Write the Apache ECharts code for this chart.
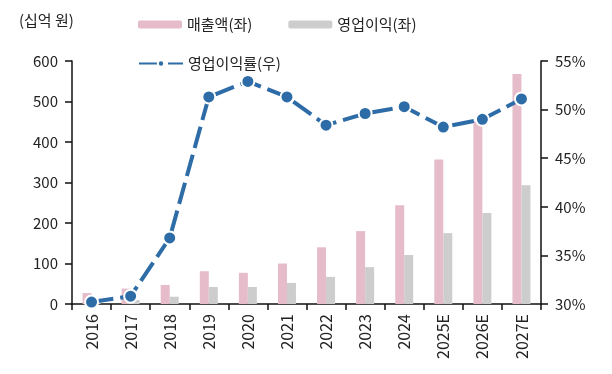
<!DOCTYPE html>
<html><head><meta charset="utf-8">
<script src="https://cdn.jsdelivr.net/npm/echarts@6/dist/echarts.min.js"></script>
<style>html,body{margin:0;padding:0;background:#fff}#c{width:612px;height:374px}</style>
</head><body><div id="c"></div>
<script>
const categories = ['2016','2017','2018','2019','2020','2021','2022','2023','2024','2025E','2026E','2027E'];
const sales = [27, 38, 47, 81, 77, 100, 140, 180, 244, 357, 451, 568];
const opProfit = [3, 10, 18, 42, 42, 52, 67, 91, 121, 175, 225, 293];
const opMargin = [30.2, 30.8, 36.8, 51.3, 52.9, 51.3, 48.4, 49.6, 50.3, 48.2, 49.0, 51.1];
const font = '"Noto Sans CJK KR", "Noto Sans", sans-serif';

const chart = echarts.init(document.getElementById('c'));
chart.setOption({
  animation: false,
  textStyle: {fontFamily: font},
  graphic: [{type: 'text', left: 19, top: 13, style: {text: '(십억 원)', font: '15px ' + font, fill: '#222'}}],
  legend: [
    {top: 12, left: 133, itemWidth: 44, itemHeight: 8, itemGap: 36,
     textStyle: {fontSize: 15, color: '#222', fontFamily: font},
     data: ['매출액(좌)', '영업이익(좌)']},
    {top: 51, left: 133, itemWidth: 44, itemHeight: 8,
     textStyle: {fontSize: 15, color: '#222', fontFamily: font},
     data: ['영업이익률(우)']}
  ],
  grid: {left: 72, right: 71, top: 61, bottom: 70},
  xAxis: {
    type: 'category', data: categories,
    axisLine: {lineStyle: {color: '#111', width: 1.5}},
    axisTick: {show: true, length: 6, lineStyle: {color: '#111', width: 1.5}},
    axisLabel: {rotate: 90, fontSize: 16, color: '#222', margin: 10}
  },
  yAxis: [
    {type: 'value', min: 0, max: 600, interval: 100,
     axisLine: {show: true, lineStyle: {color: '#111', width: 1.5}},
     axisTick: {show: true, length: 7, lineStyle: {color: '#111', width: 1.5}},
     axisLabel: {fontSize: 15, color: '#222', margin: 14},
     splitLine: {show: false}},
    {type: 'value', min: 30, max: 55, interval: 5,
     axisLine: {show: true, lineStyle: {color: '#111', width: 1.5}},
     axisTick: {show: true, length: 7, lineStyle: {color: '#111', width: 1.5}},
     axisLabel: {fontSize: 15, color: '#222', margin: 14, formatter: '{value}%'},
     splitLine: {show: false}}
  ],
  series: [
    {name: '매출액(좌)', type: 'bar', data: sales, barWidth: 9, barGap: '0%',
     itemStyle: {color: '#e6bccb'}},
    {name: '영업이익(좌)', type: 'bar', data: opProfit, barWidth: 9, barGap: '0%',
     itemStyle: {color: '#cdcdcd'}},
    {name: '영업이익률(우)', type: 'line', yAxisIndex: 1, data: opMargin,
     symbol: 'circle', symbolSize: 13,
     lineStyle: {color: '#2d6ca6', width: 4, type: [22, 7]},
     itemStyle: {color: '#2d6ca6', borderColor: '#fff', borderWidth: 2}}
  ]
});
</script></body></html>
